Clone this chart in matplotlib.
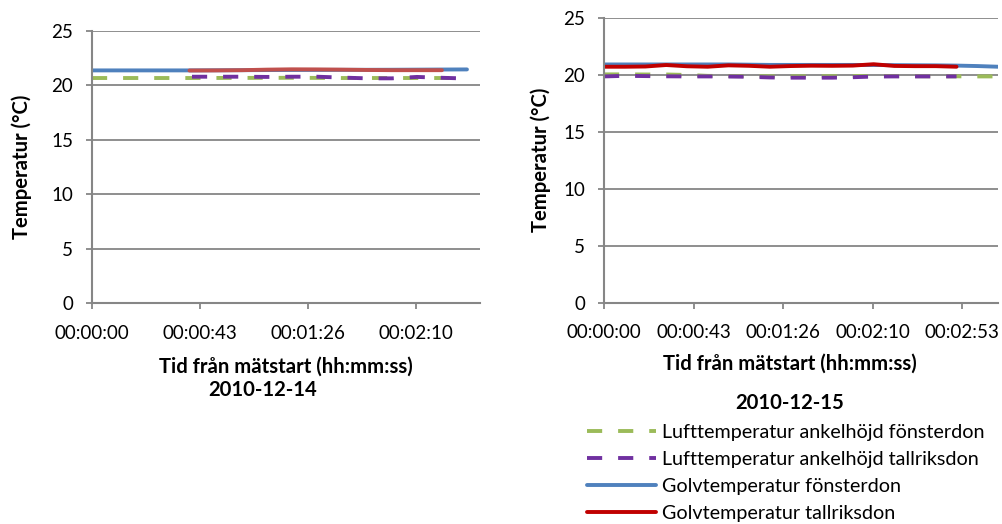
import numpy as np
import matplotlib
matplotlib.use("Agg")
from matplotlib import pyplot as plt

plt.rcParams['font.family'] = ['Lato', 'DejaVu Sans']

# tick positions in seconds (Excel steps of 0.0005 day = 43.2 s)
tickSeconds = [0, 43.2, 86.4, 129.6, 172.8]
tickLabels = ["00:00:00", "00:00:43", "00:01:26", "00:02:10", "00:02:53"]

seriesNames = ["Lufttemperatur ankelhöjd fönsterdon",
               "Lufttemperatur ankelhöjd tallriksdon",
               "Golvtemperatur fönsterdon",
               "Golvtemperatur tallriksdon"]

# 2010-12-14
leftGreenT = [0, 20, 40, 60, 80, 100, 120, 146]
leftGreenV = [20.68, 20.68, 20.68, 20.69, 20.70, 20.68, 20.68, 20.68]
leftPurpleT = [40, 50, 60, 70, 80, 90, 100, 110, 120, 130, 140, 146]
leftPurpleV = [20.80, 20.80, 20.80, 20.78, 20.80, 20.80, 20.72, 20.65, 20.65, 20.78, 20.70, 20.66]
leftBlueT = [0, 20, 40, 60, 80, 100, 120, 140, 150]
leftBlueV = [21.38, 21.38, 21.38, 21.40, 21.42, 21.43, 21.44, 21.46, 21.47]
leftRedT = [39, 50, 60, 70, 80, 90, 100, 110, 120, 130, 140]
leftRedV = [21.37, 21.38, 21.40, 21.45, 21.48, 21.47, 21.45, 21.42, 21.40, 21.40, 21.40]

# 2010-12-15
rightGreenT = [0, 10, 20, 30, 40, 50, 60, 80, 100, 120, 140, 160, 170, 180, 190]
rightGreenV = [20.03, 20.03, 20.02, 20.02, 19.98, 19.90, 19.88, 19.86, 19.86, 19.88, 19.88, 19.86, 19.86, 19.85, 19.85]
rightPurpleT = [0, 10, 20, 30, 40, 50, 60, 70, 80, 90, 100, 110, 120, 130, 140, 150, 160, 170]
rightPurpleV = [19.85, 19.90, 19.88, 19.86, 19.85, 19.85, 19.84, 19.82, 19.76, 19.74, 19.74, 19.74, 19.78, 19.84, 19.85, 19.85, 19.85, 19.85]
rightBlueT = [0, 20, 40, 60, 80, 100, 120, 140, 160, 170, 180, 190]
rightBlueV = [20.90, 20.90, 20.90, 20.90, 20.86, 20.86, 20.86, 20.84, 20.82, 20.80, 20.76, 20.70]
rightRedT = [0, 10, 20, 30, 40, 50, 60, 70, 80, 90, 100, 110, 120, 130, 140, 150, 160, 170]
rightRedV = [20.70, 20.70, 20.72, 20.85, 20.74, 20.70, 20.82, 20.78, 20.70, 20.76, 20.79, 20.78, 20.80, 20.92, 20.77, 20.75, 20.75, 20.70]

green = '#9BBB59'
purple = '#7030A0'
blue = '#4F81BD'
redLeft = '#C0504D'
redRight = '#C00000'
gridColor = '#868686'
lw = 2.8
dashPattern = (3.9, 4.1)
boldSize = 14.6

fig = plt.figure(figsize=(10.02, 5.24), dpi=100)
axLeft = fig.add_axes([0.0918, 0.4218, 0.3872, 0.519])
axRight = fig.add_axes([0.6028, 0.4223, 0.3932, 0.5439])


def styleAxes(ax, xmax, nTicks):
    ax.set_xlim(0, xmax)
    ax.set_ylim(0, 25)
    ax.set_yticks([0, 5, 10, 15, 20, 25])
    ax.set_xticks(tickSeconds[:nTicks])
    ax.set_xticklabels(tickLabels[:nTicks])
    ax.yaxis.grid(True, color=gridColor, linewidth=1.3)
    ax.set_axisbelow(True)
    for side in ['top', 'right']:
        ax.spines[side].set_visible(False)
    for side in ['left', 'bottom']:
        ax.spines[side].set_color(gridColor)
        ax.spines[side].set_linewidth(1.5)
    ax.tick_params(axis='both', colors=gridColor, labelcolor='black',
                   labelsize=13.5, length=4.5, width=1.3)
    ax.tick_params(axis='x', pad=11)
    ax.tick_params(axis='y', pad=9)


def drawSeries(ax, data, redColor):
    (gT, gV), (pT, pV), (bT, bV), (rT, rV) = data
    l1, = ax.plot(gT, gV, color=green, lw=lw, dashes=dashPattern, label=seriesNames[0])
    l2, = ax.plot(pT, pV, color=purple, lw=lw, dashes=dashPattern, label=seriesNames[1])
    l3, = ax.plot(bT, bV, color=blue, lw=lw, solid_capstyle='round', label=seriesNames[2])
    l4, = ax.plot(rT, rV, color=redColor, lw=lw, solid_capstyle='round', label=seriesNames[3])
    return [l1, l2, l3, l4]


drawSeries(axLeft, [(leftGreenT, leftGreenV), (leftPurpleT, leftPurpleV),
                    (leftBlueT, leftBlueV), (leftRedT, leftRedV)], redLeft)
handles = drawSeries(axRight, [(rightGreenT, rightGreenV), (rightPurpleT, rightPurpleV),
                               (rightBlueT, rightBlueV), (rightRedT, rightRedV)], redRight)

styleAxes(axLeft, 155.2, 4)
styleAxes(axRight, 190.0, 5)


def figText(x, y, s, **kw):
    fig.text(x / 1002, 1 - y / 524, s, fontsize=boldSize, fontweight='bold',
             ha='center', va='center', **kw)


figText(22, 167, "Temperatur (°C)", rotation=90)
figText(541, 160, "Temperatur (°C)", rotation=90)
figText(286, 367, "Tid från mätstart (hh:mm:ss)")
figText(263, 390, "2010-12-14")
figText(790, 364, "Tid från mätstart (hh:mm:ss)")
figText(790, 403, "2010-12-15")

fig.legend(handles=handles, loc='upper left', bbox_to_anchor=(587 / 1002, 1 - 424 / 524),
           frameon=False, fontsize=14.2, handlelength=3.5, handletextpad=0.3,
           labelspacing=0.5, borderaxespad=0, borderpad=0)

fig.savefig("out.png", dpi=100)
